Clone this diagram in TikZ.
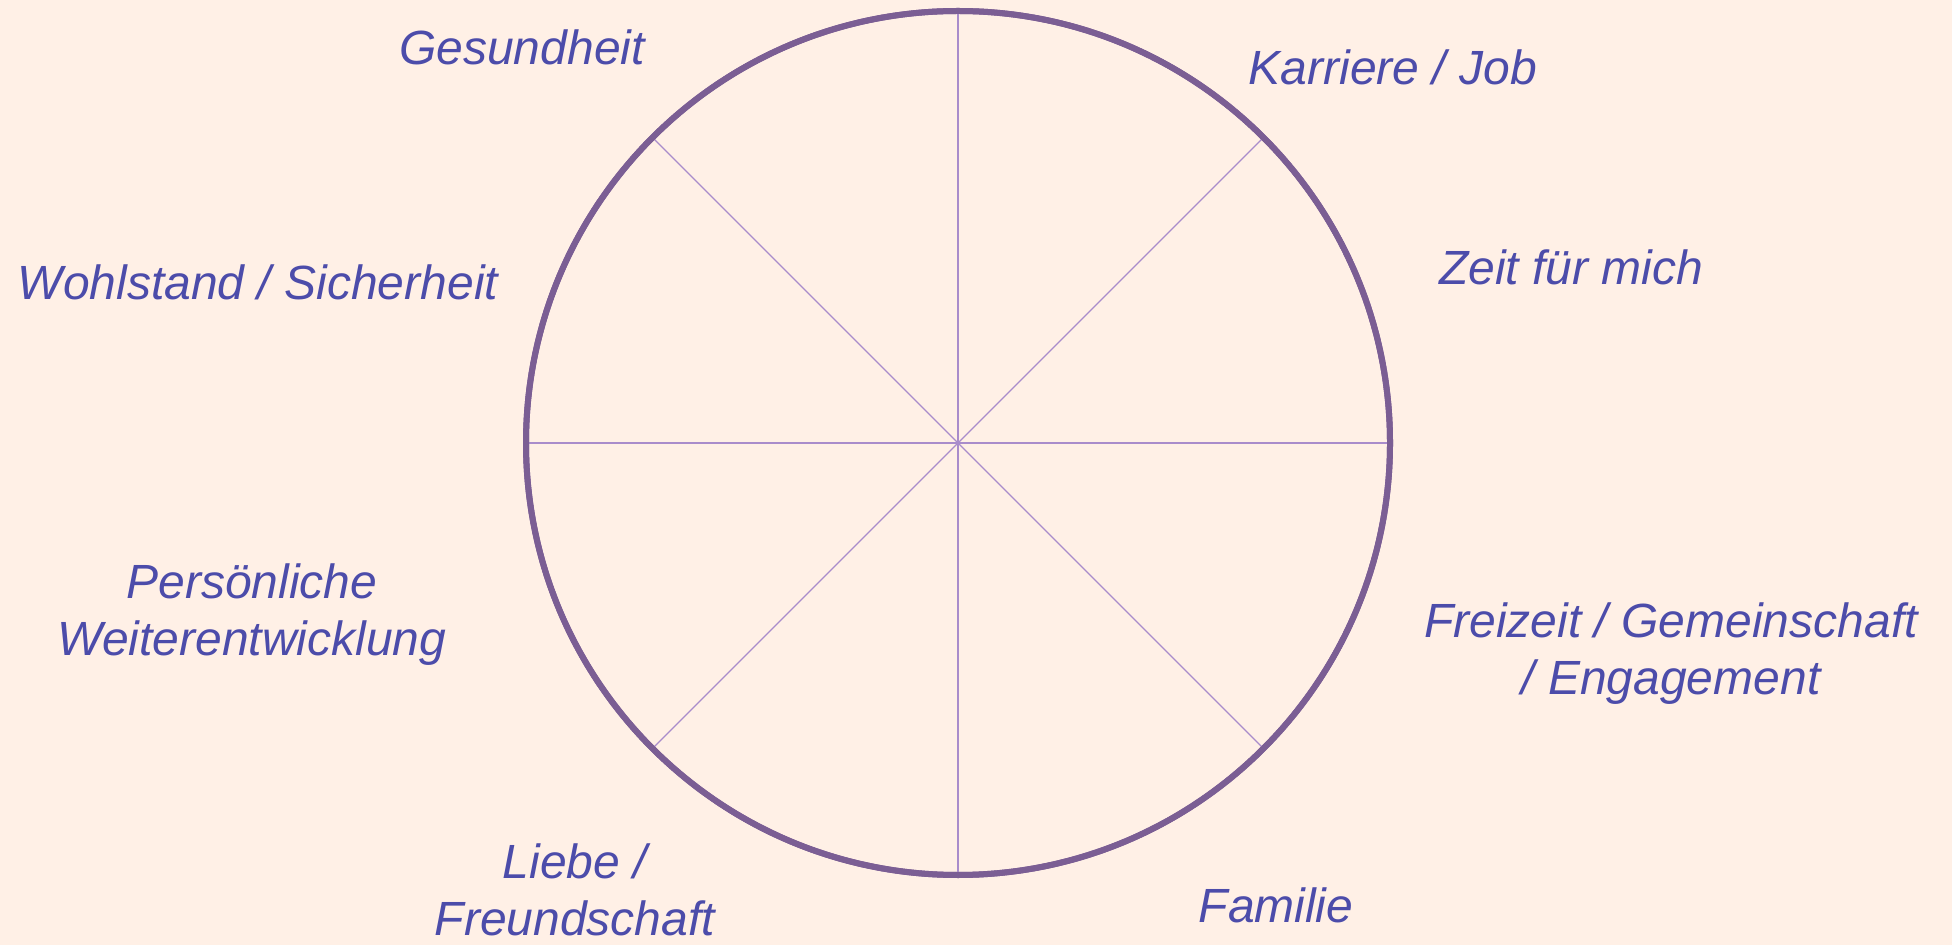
\documentclass[tikz,border=0pt]{standalone}
\usepackage{fontspec}
\setmainfont{Liberation Sans}
\definecolor{bg}{HTML}{FFF0E6}
\definecolor{ring}{HTML}{7B5E94}
\definecolor{spoke}{HTML}{A98CCB}
\definecolor{txt}{HTML}{4C4CAA}
\begin{document}
\begin{tikzpicture}[x=0.5pt,y=-0.5pt,
  lab/.style={text=txt, font=\fontsize{24}{28.5}\selectfont\itshape, inner sep=0pt, align=center, anchor=base},
  wheelstyle/.style={circle, draw=ring, line width=3pt, minimum size=432pt, inner sep=0pt, outer sep=0pt},
  spokestyle/.style={draw=spoke, line width=0.6pt}]
\fill[bg] (0,0) rectangle (1952,945);
\useasboundingbox (0,0) rectangle (1952,945);
\node[wheelstyle] (wheel) at (958,443) {};
\foreach \a in {0,45,...,315} \draw[spokestyle] (wheel.center) -- (wheel.\a);
\draw[ring, line width=3pt] (wheel.center) circle[radius=432];
\node[lab] (g) at (522,65) {Gesundheit};
\node[lab] (k) at (1393,85) {Karriere / Job};
\node[lab] (z) at (1571,285) {Zeit für mich};
\node[lab] (w) at (258,300) {Wohlstand / Sicherheit};
\node[lab] (p) at (252,655) {Persönliche\\Weiterentwicklung};
\node[lab] (f) at (1671,694) {Freizeit / Gemeinschaft\\/ Engagement};
\node[lab] (l) at (575,935) {Liebe /\\Freundschaft};
\node[lab] (fa) at (1276,922) {Familie};
\end{tikzpicture}
\end{document}
